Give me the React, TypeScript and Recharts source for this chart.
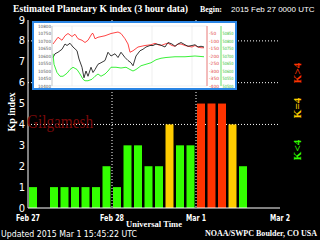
import { BarChart, Bar, XAxis, YAxis, CartesianGrid, Cell, LineChart, Line } from 'recharts';

// Kp values, one per 3-hour slot starting 2015 Feb 27 00 UTC
const kpValues = [1, 0, 1, 1, 1, 1, 1, 2, 1, 3, 3, 2, 2, 4, 3, 3, 5, 5, 5, 4, 2];
const dayTicks = [0, 24, 48, 72];
const dayLabels = ['Feb 27', 'Feb 28', 'Mar 1', 'Mar 2'];
const kpTicks = [0, 1, 2, 3, 4, 5, 6, 7, 8, 9];
const gridKp = [4, 6, 8];

// magnetometer inset traces: H (black, left scale), D (red, red scale), Z (green, green scale)
const hT = [1, 3, 6, 10, 13, 15, 18, 21, 25, 27, 30, 32, 34, 36, 39, 41, 43, 46, 49, 53, 56, 59, 63, 66, 69, 73, 76, 79, 81, 84, 88, 91, 94, 98, 101, 104, 108, 113, 116, 120, 123, 126, 129, 133, 136, 140, 143, 146, 149, 152];
const hV = [10590, 10615, 10625, 10645, 10680, 10670, 10685, 10660, 10635, 10580, 10525, 10455, 10500, 10465, 10525, 10490, 10510, 10545, 10555, 10570, 10625, 10600, 10615, 10590, 10625, 10590, 10570, 10555, 10535, 10600, 10635, 10645, 10660, 10670, 10670, 10680, 10675, 10660, 10690, 10680, 10665, 10680, 10690, 10675, 10665, 10670, 10675, 10660, 10665, 10660];
const dT = [1, 6, 10, 13, 16, 20, 23, 26, 30, 33, 36, 40, 41, 43, 46, 53, 59, 66, 69, 73, 76, 78, 81, 86, 93, 99, 103, 106, 109, 113, 116, 120, 123, 126, 129, 133, 136, 140, 143, 146, 149, 152];
const dV = [-120, -75, -95, -65, -50, -70, -55, -85, -95, -110, -95, -50, -50, -85, -75, -65, -50, -40, -50, -85, -120, -175, -165, -140, -130, -125, -115, -125, -130, -120, -115, -130, -135, -120, -120, -130, -135, -140, -130, -140, -145, -145];
const zT = [1, 2, 5, 8, 11, 15, 18, 21, 25, 28, 31, 33, 36, 40, 43, 46, 49, 53, 56, 59, 64, 69, 74, 78, 81, 84, 89, 94, 99, 104, 109, 114, 123, 133, 143, 152];
const zV = [50715, 50645, 50590, 50565, 50565, 50585, 50610, 50625, 50610, 50580, 50545, 50535, 50535, 50545, 50565, 50580, 50565, 50580, 50600, 50625, 50625, 50620, 50625, 50610, 50600, 50610, 50635, 50645, 50655, 50675, 50685, 50690, 50695, 50695, 50700, 50695];
const hTicks = [10400, 10450, 10500, 10550, 10600, 10650, 10700, 10750, 10800];
const dTicks = [-400, -350, -300, -250, -200, -150, -100, -50];
const zTicks = [50500, 50550, 50600, 50650, 50700, 50750, 50800, 50850];
const timeTicks = [0, 20, 40, 60, 80, 100, 120, 140];

const kpData = kpValues.map((kp, i) => ({ t: i * 3 + 1.5, kp }));
const hData = hT.map((t, i) => ({ t, v: hV[i] }));
const dData = dT.map((t, i) => ({ t, v: dV[i] }));
const zData = zT.map((t, i) => ({ t, v: zV[i] }));

const SERIF = "'Liberation Serif', 'DejaVu Serif', serif";
const SANS = "'DejaVu Sans', sans-serif";
const ARIAL = "'Liberation Sans', sans-serif";

const kpColor = (v: number) => (v > 4 ? '#ff3300' : v === 4 ? '#ffcc00' : '#33ff00');

const NoLabel = () => <g />;

const KpTick = (props: any) => {
  const { x, y, payload } = props;
  return (
    <text x={x} y={y} dy={3.5} textAnchor="end" fill="#ffffff" fontSize={10} fontFamily={SANS}>
      {String(payload.value)}
    </text>
  );
};

const TopTick = (props: any) => {
  const { x, y } = props;
  return <line x1={x} x2={x} y1={y} y2={y + 3} stroke="#fff" />;
};

const DayTick = (props: any) => {
  const { x, y, payload } = props;
  const label = dayLabels[dayTicks.indexOf(payload.value)];
  return (
    <text x={x} y={y + 13} textAnchor="middle" fill="#fff" fontSize={8.5} fontWeight="bold" fontFamily={SANS} textLength={label.length * 4} lengthAdjust="spacingAndGlyphs">
      {label}
    </text>
  );
};

const InsetTick = (props: any) => {
  const { x, y, payload, fill, anchor, fit } = props;
  return (
    <text x={x} y={y + 1.6} textAnchor={anchor} fill={fill} fontSize={4.4} fontFamily={SANS} textLength={fit} lengthAdjust="spacingAndGlyphs">
      {String(payload.value)}
    </text>
  );
};

function Magnetometer() {
  return (
    <div
      style={{
        position: 'absolute',
        left: 32,
        top: 21,
        width: 205,
        height: 69,
        boxSizing: 'border-box',
        border: '2px solid #2a85e4',
        background: '#fff',
      }}
    >
      <LineChart width={201} height={65} margin={{ top: 3, right: 0, bottom: 2, left: 0 }}>
        <CartesianGrid stroke="#e4e4e4" strokeWidth={0.6} />
        <XAxis type="number" dataKey="t" domain={[0, 155]} ticks={timeTicks} hide />
        <YAxis
          yAxisId="h"
          domain={[10400, 10800]}
          ticks={hTicks}
          interval={0}
          width={18}
          tickSize={0}
          tickMargin={1}
          axisLine={{ stroke: '#ccc' }}
          tickLine={false}
          tick={<InsetTick fill="#555" anchor="end" fit={13} />}
        />
        <YAxis
          yAxisId="d"
          orientation="right"
          domain={[-400, 0]}
          ticks={dTicks}
          interval={0}
          width={14}
          tickSize={0}
          tickMargin={2}
          axisLine={{ stroke: '#f08080' }}
          tickLine={false}
          tick={<InsetTick fill="#e04040" anchor="start" />}
        />
        <YAxis
          yAxisId="z"
          orientation="right"
          domain={[50500, 50900]}
          ticks={zTicks}
          interval={0}
          width={14}
          tickSize={0}
          tickMargin={1.5}
          axisLine={{ stroke: '#66e066' }}
          tickLine={false}
          tick={<InsetTick fill="#30c030" anchor="start" fit={11} />}
        />
        <Line yAxisId="d" data={dData} dataKey="v" stroke="#ff3030" strokeWidth={0.9} dot={false} isAnimationActive={false} />
        <Line yAxisId="h" data={hData} dataKey="v" stroke="#222" strokeWidth={0.9} dot={false} isAnimationActive={false} />
        <Line yAxisId="z" data={zData} dataKey="v" stroke="#22ee22" strokeWidth={0.9} dot={false} isAnimationActive={false} />
      </LineChart>
    </div>
  );
}

export default function App() {
  return (
    <div style={{ position: 'fixed', left: 0, top: 0, width: 320, height: 240, background: '#000', overflow: 'hidden' }}>
      <BarChart width={320} height={240} data={kpData} margin={{ top: 20, right: 40, bottom: 18, left: 0 }}>
        <CartesianGrid
          stroke="#fff"
          strokeDasharray="1 2"
          horizontalValues={gridKp}
          verticalValues={[24, 48]}
        />
        <XAxis
          type="number"
          dataKey="t"
          domain={[0, 72]}
          ticks={dayTicks}
          interval={0}
          height={14}
          tickSize={0}
          tickMargin={0}
          axisLine={{ stroke: '#fff' }}
          tickLine={false}
          tick={<DayTick />}
        />
        <XAxis
          xAxisId="top"
          orientation="top"
          type="number"
          dataKey="t"
          domain={[0, 72]}
          ticks={dayTicks}
          interval={0}
          height={0}
          tickSize={0}
          tickMargin={0}
          axisLine={{ stroke: '#fff' }}
          tickLine={false}
          tick={<TopTick />}
        />
        <Bar dataKey="kp" barSize={8} isAnimationActive={false}>
          {kpData.map((d, i) => (
            <Cell key={i} fill={kpColor(d.kp)} />
          ))}
        </Bar>
        <YAxis
          domain={[0, 9]}
          ticks={kpTicks}
          interval={0}
          width={28}
          tickSize={0}
          tickMargin={3}
          axisLine={{ stroke: '#fff' }}
          tickLine={false}
          tick={<KpTick />}
        />
        <YAxis
          yAxisId="inner"
          domain={[0, 9]}
          ticks={kpTicks}
          interval={0}
          width={0}
          mirror
          tickSize={3}
          axisLine={false}
          tickLine={{ stroke: '#fff' }}
          tick={<NoLabel />}
        />
        <YAxis
          yAxisId="right"
          orientation="right"
          domain={[0, 9]}
          ticks={kpTicks}
          interval={0}
          width={0}
          mirror
          tickSize={3}
          axisLine={{ stroke: '#fff' }}
          tickLine={{ stroke: '#fff' }}
          tick={<NoLabel />}
        />
      </BarChart>
      <Magnetometer />
      <svg width={320} height={240} style={{ position: 'absolute', left: 0, top: 0, pointerEvents: 'none' }}>
        <text x={13} y={12} fill="#fff" fontSize={10} fontWeight="bold" fontFamily={SERIF} textLength={175} lengthAdjust="spacingAndGlyphs">
          Estimated Planetary K index (3 hour data)
        </text>
        <text x={200} y={12} fill="#fff" fontSize={9} fontWeight="bold" fontFamily={SERIF} textLength={22} lengthAdjust="spacingAndGlyphs">
          Begin:
        </text>
        <text x={231} y={12} fill="#fff" fontSize={8} fontFamily={ARIAL}>
          2015 Feb 27 0000 UTC
        </text>
        <text x={15} y={112} transform="rotate(-90 15 112)" textAnchor="middle" fill="#fff" fontSize={10} fontWeight="bold" fontFamily={SERIF}>
          Kp index
        </text>
        <text x={27} y={128} fill="#7a0a0a" fontSize={19} fontFamily={SERIF} textLength={66} lengthAdjust="spacingAndGlyphs">
          Gilgamesh
        </text>
        <text x={301} y={73} transform="rotate(-90 301 73)" textAnchor="middle" fill="#ff3300" fontSize={11} fontWeight="bold" fontFamily={SERIF}>
          K&gt;4
        </text>
        <text x={301} y={108} transform="rotate(-90 301 108)" textAnchor="middle" fill="#ffcc00" fontSize={11} fontWeight="bold" fontFamily={SERIF}>
          K=4
        </text>
        <text x={301} y={150} transform="rotate(-90 301 150)" textAnchor="middle" fill="#33ff00" fontSize={11} fontWeight="bold" fontFamily={SERIF}>
          K&lt;4
        </text>
        <text x={154} y={227} textAnchor="middle" fill="#fff" fontSize={9} fontWeight="bold" fontFamily={SERIF} textLength={56} lengthAdjust="spacingAndGlyphs">
          Universal Time
        </text>
        <text x={1} y={237} fill="#fff" fontSize={9} fontFamily={SANS} textLength={136} lengthAdjust="spacingAndGlyphs">
          Updated 2015 Mar  1 15:45:22 UTC
        </text>
        <text x={205} y={236} fill="#fff" fontSize={8} fontWeight="bold" fontFamily={SERIF} textLength={112} lengthAdjust="spacingAndGlyphs">
          NOAA/SWPC Boulder, CO USA
        </text>
      </svg>
    </div>
  );
}
